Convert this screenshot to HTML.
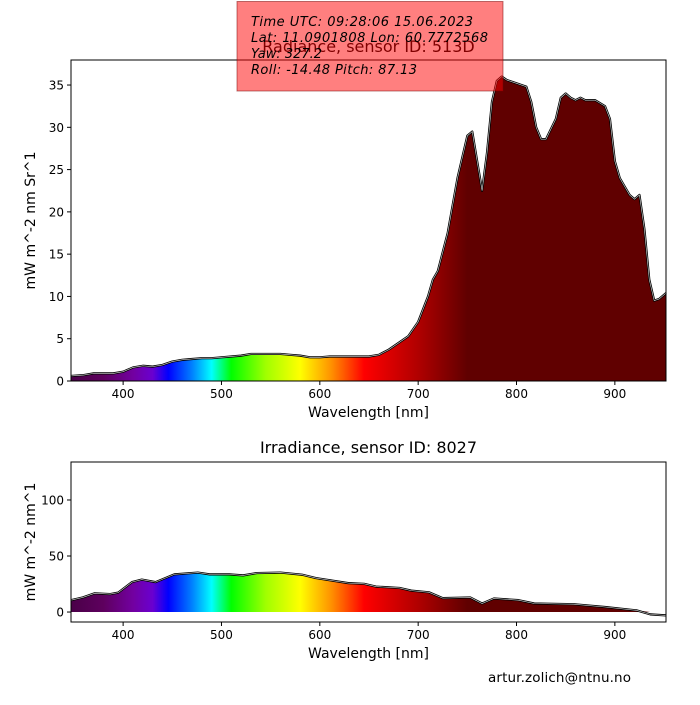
<!DOCTYPE html>
<html><head><meta charset="utf-8"><style>
body{margin:0;background:#fff}
svg text{font-family:"DejaVu Sans","Liberation Sans",sans-serif;fill:#000}
</style></head><body>
<svg id="chart" width="700" height="700" viewBox="0 0 700 700" xmlns="http://www.w3.org/2000/svg">
<defs>
<linearGradient id="spec" gradientUnits="userSpaceOnUse" x1="71" y1="0" x2="666" y2="0"></linearGradient>
<clipPath id="clipTop"><path id="clipTopPath"/></clipPath>
<clipPath id="clipBot"><path id="clipBotPath"/></clipPath>
</defs>
<g id="top"></g>
<g id="bot"></g>
<text x="488" y="682" font-size="13.5" textLength="143">artur.zolich@ntnu.no</text>
<g>
<rect x="237" y="1.5" width="266" height="89.5" fill="rgba(255,0,0,0.5)" stroke="rgba(120,0,0,0.5)" stroke-width="1"/>
<text x="251" y="26" font-size="13" font-style="italic" textLength="222">Time UTC: 09:28:06 15.06.2023</text>
<text x="251" y="42" font-size="13" font-style="italic" textLength="237">Lat: 11.0901808 Lon: 60.7772568</text>
<text x="251" y="58" font-size="13" font-style="italic">Yaw: 327.2</text>
<text x="251" y="74" font-size="13" font-style="italic" textLength="166">Roll: -14.48 Pitch: 87.13</text>
</g>
</svg>
<script>
const radWl=[347,360,370,380,390,400,410,420,430,440,450,460,470,480,490,500,510,520,530,540,550,560,570,580,590,600,610,620,630,640,650,660,670,680,690,700,710,715,720,730,740,750,755,760,765,770,775,780,785,790,800,810,815,820,825,830,840,845,850,855,860,865,870,880,890,895,900,905,910,915,920,925,930,935,940,945,952];
const radVal=[0.6,0.7,0.9,0.9,0.9,1.1,1.6,1.8,1.7,1.9,2.3,2.5,2.6,2.7,2.7,2.8,2.9,3.0,3.2,3.2,3.2,3.2,3.1,3.0,2.8,2.8,2.9,2.9,2.9,2.9,2.9,3.1,3.7,4.5,5.3,7.0,10,12,13,17.5,24,29,29.5,26,22.5,27,33,35.5,36,35.6,35.2,34.8,33,30,28.6,28.6,31,33.5,34,33.5,33.2,33.5,33.2,33.2,32.5,31,26,24,23,22,21.5,22,18,12,9.5,9.7,10.4];
const irrWl=[347,359,371,387,395,409,419,433,452,476,488,508,522,536,560,582,596,629,645,657,681,693,711,725,753,765,777,802,818,858,890,922,936,952];
const irrVal=[10.6,13,16.7,16,17.3,26.7,29,26.7,33.6,35.2,33.6,33.6,32.7,34.8,35.2,33.3,30.3,25.8,25.2,22.7,21.5,19.1,17.6,12.4,13,7.6,12.1,10.6,7.6,7,4.5,1.5,-2.1,-3];
const xTicks=[400,500,600,700,800,900];
const topYTicks=[0,5,10,15,20,25,30,35];
const botYTicks=[0,50,100];
const specStops=[[347,'#4a0048'],[380,'#5e005e'],[410,'#7200a0'],[430,'#6a00d0'],[446,'#0000ff'],[470,'#0080ff'],[490,'#00ffff'],[510,'#00ff00'],[545,'#a0ff00'],[580,'#ffff00'],[612,'#ff9000'],[645,'#ff0000'],[700,'#b00000'],[750,'#600000'],[952,'#600000']];
const NS='http://www.w3.org/2000/svg';
const X0=71,X1=666,WMIN=347,WMAX=952;
const sx=w=>X0+(w-WMIN)/(WMAX-WMIN)*(X1-X0);
const grad=document.getElementById('spec');
specStops.forEach(s=>{const st=document.createElementNS(NS,'stop');st.setAttribute('offset',((s[0]-WMIN)/(WMAX-WMIN)).toFixed(4));st.setAttribute('stop-color',s[1]);grad.appendChild(st);});
function el(p,t,a){const e=document.createElementNS(NS,t);for(const k in a)e.setAttribute(k,a[k]);p.appendChild(e);return e;}
function panel(g,clipId,clipPathId,wl,val,y0,y1,vmin,vmax,yt,title,ylabel,titleY){
  const sy=v=>y1-(v-vmin)/(vmax-vmin)*(y1-y0);
  const yb=sy(0);
  let d='M'+sx(wl[0])+','+yb;
  wl.forEach((w,i)=>d+=' L'+sx(w).toFixed(2)+','+sy(Math.max(0,val[i])).toFixed(2));
  d+=' L'+sx(wl[wl.length-1])+','+yb+' Z';
  document.getElementById(clipPathId).setAttribute('d',d);
  const fill=el(g,'rect',{x:X0,y:y0,width:X1-X0,height:y1-y0,fill:'url(#spec)','clip-path':'url(#'+clipId+')'});
  
  
  let ld='';
  wl.forEach((w,i)=>ld+=(i?' L':'M')+sx(w).toFixed(2)+','+sy(val[i]).toFixed(2));
  const l1=el(g,'path',{d:ld,fill:'none',stroke:'#000','stroke-width':2.2,'stroke-linejoin':'round'});
  
  
  el(g,'path',{d:ld,fill:'none',stroke:'#ddd','stroke-width':0.6});
  const fr=el(g,'rect',{x:X0,y:y0,width:X1-X0,height:y1-y0,fill:'none',stroke:'#000','stroke-width':1});
  
  
  xTicks.forEach(t=>{const x=sx(t);el(g,'line',{x1:x,x2:x,y1:y1,y2:y1+4,stroke:'#000'});
    const tx=el(g,'text',{x:x,y:y1+17,'font-size':12,'text-anchor':'middle'});tx.textContent=t;
    
    });
  yt.forEach(t=>{const y=sy(t);el(g,'line',{x1:X0-4,x2:X0,y1:y,y2:y,stroke:'#000'});
    const tx=el(g,'text',{x:X0-7,y:y+4.5,'font-size':12,'text-anchor':'end'});tx.textContent=t;
    
    });
  const xl=el(g,'text',{x:(X0+X1)/2,y:y1+36,'font-size':14,'text-anchor':'middle'});xl.textContent='Wavelength [nm]';
  
  
  const yc=(y0+y1)/2;
  const yl=el(g,'text',{x:35,y:yc,'font-size':14,'text-anchor':'middle',transform:'rotate(-90 35 '+yc+')'});yl.textContent=ylabel;
  
  
  const tt=el(g,'text',{x:(X0+X1)/2,y:titleY,'font-size':16,'text-anchor':'middle'});tt.textContent=title;
  
  
}
panel(document.getElementById('top'),'clipTop','clipTopPath',radWl,radVal,60,381,0,37.96,topYTicks,'Radiance, sensor ID: 513D','mW m^-2 nm Sr^1',52);
panel(document.getElementById('bot'),'clipBot','clipBotPath',irrWl,irrVal,462,622,-8.9,133.9,botYTicks,'Irradiance, sensor ID: 8027','mW m^-2 nm^1',453);
</script>
</body></html>
